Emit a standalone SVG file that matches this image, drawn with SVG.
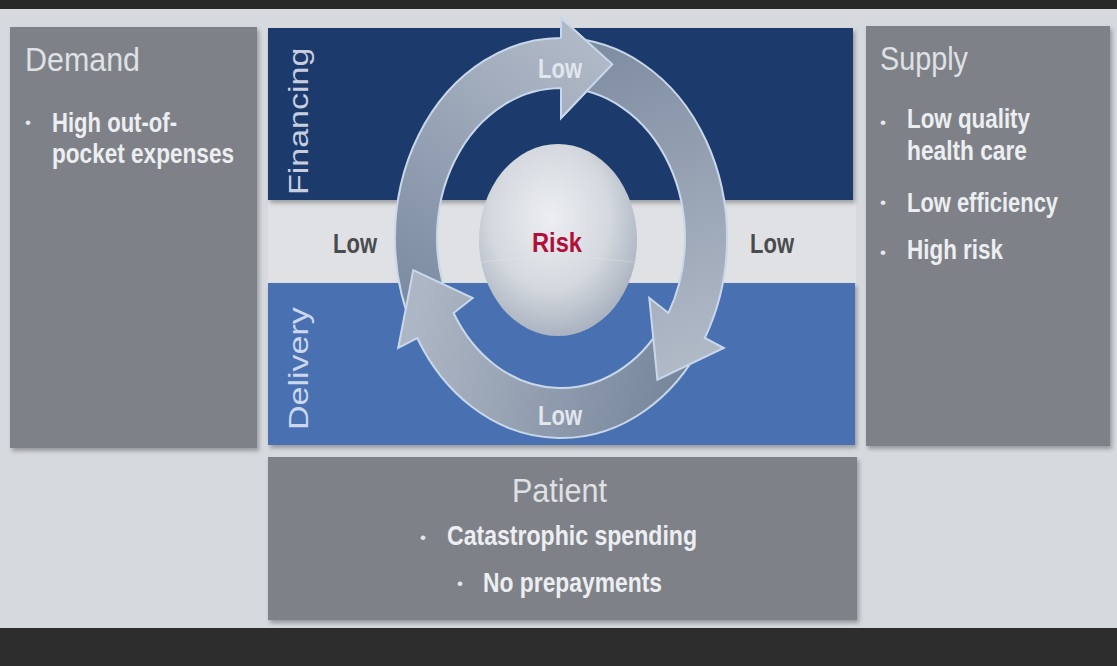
<svg xmlns="http://www.w3.org/2000/svg" width="1117" height="666" viewBox="0 0 1117 666">
<defs>
<style>
.title{font-family:"Liberation Sans",Arial,sans-serif;font-size:33px;fill:#dfe1e4}
.bul{font-family:"Liberation Sans",Arial,sans-serif;font-size:28px;font-weight:bold;fill:#eceef1}
.dot{font-family:"Liberation Sans",Arial,sans-serif;font-size:17px;fill:#e6e8eb}
.side{font-family:"Liberation Sans",Arial,sans-serif;font-size:34px}
.low{font-family:"Liberation Sans",Arial,sans-serif;font-size:27px;font-weight:bold}
.arrow{stroke:#c9d7eb;stroke-width:2;stroke-linejoin:miter}
.box{fill:#7e8288}
</style>
<filter id="sh" x="-5%" y="-5%" width="112%" height="115%"><feDropShadow dx="2" dy="3" stdDeviation="2" flood-color="#000" flood-opacity="0.3"/></filter>
<linearGradient id="gTop" gradientUnits="userSpaceOnUse" x1="420" y1="320" x2="600" y2="60"><stop offset="0" stop-color="#7b8aa1"/><stop offset="1" stop-color="#afb8c6"/></linearGradient>
<linearGradient id="gRight" gradientUnits="userSpaceOnUse" x1="575" y1="45" x2="690" y2="360"><stop offset="0" stop-color="#7e8ca1"/><stop offset="1" stop-color="#b0b9c6"/></linearGradient>
<linearGradient id="gBot" gradientUnits="userSpaceOnUse" x1="690" y1="360" x2="420" y2="300"><stop offset="0" stop-color="#76859b"/><stop offset="1" stop-color="#adb6c4"/></linearGradient>
<radialGradient id="sph" cx="0.45" cy="0.38" r="0.62"><stop offset="0" stop-color="#eceef2"/><stop offset="0.6" stop-color="#d5d9df"/><stop offset="1" stop-color="#aab3c0"/></radialGradient>
</defs>
<rect x="0" y="0" width="1117" height="666" fill="#d6d9de"/>
<rect x="0" y="0" width="1117" height="9" fill="#282828"/>
<rect x="268" y="200" width="588" height="83" fill="#dfe1e4"/>
<rect x="0" y="628" width="1117" height="38" fill="#2d2d2d"/>

<g id="demand">
<rect class="box" x="10" y="27" width="247" height="421" filter="url(#sh)"/>
<text class="title" x="25" y="71" textLength="115" lengthAdjust="spacingAndGlyphs">Demand</text>
<text class="dot" x="25" y="128">•</text>
<text class="bul" x="52" y="132" textLength="125" lengthAdjust="spacingAndGlyphs">High out-of-</text>
<text class="bul" x="52" y="163" textLength="182" lengthAdjust="spacingAndGlyphs">pocket expenses</text>
</g>

<g id="supply">
<rect class="box" x="866" y="26" width="244" height="420" filter="url(#sh)"/>
<text class="title" x="880" y="70" textLength="88" lengthAdjust="spacingAndGlyphs">Supply</text>
<text class="dot" x="880" y="128">•</text>
<text class="bul" x="907" y="128" textLength="123" lengthAdjust="spacingAndGlyphs">Low quality</text>
<text class="bul" x="907" y="160" textLength="120" lengthAdjust="spacingAndGlyphs">health care</text>
<text class="dot" x="880" y="208">•</text>
<text class="bul" x="907" y="212" textLength="151" lengthAdjust="spacingAndGlyphs">Low efficiency</text>
<text class="dot" x="880" y="258">•</text>
<text class="bul" x="907" y="259" textLength="96" lengthAdjust="spacingAndGlyphs">High risk</text>
</g>

<g id="patient">
<rect class="box" x="268" y="457" width="589" height="163" filter="url(#sh)"/>
<text class="title" x="512" y="502" textLength="95" lengthAdjust="spacingAndGlyphs">Patient</text>
<text class="dot" x="420" y="543">•</text>
<text class="bul" x="447" y="545" textLength="250" lengthAdjust="spacingAndGlyphs">Catastrophic spending</text>
<text class="dot" x="457" y="589">•</text>
<text class="bul" x="483" y="592" textLength="179" lengthAdjust="spacingAndGlyphs">No prepayments</text>
</g>

<g id="financing">
<rect x="268" y="28" width="585" height="172" fill="#1f3a6c" filter="url(#sh)"/>
<text class="side" fill="#c6cee0" transform="translate(308,195) scale(0.8,1) rotate(-90)">Financing</text>
</g>

<g id="delivery">
<rect x="268" y="283" width="587" height="162" fill="#4a6fb1" filter="url(#sh)"/>
<text class="side" fill="#cbd7ed" transform="translate(308,430) scale(0.8,1) rotate(-90)">Delivery</text>
</g>

<g id="risk">
<ellipse cx="558" cy="240" rx="79" ry="96" fill="url(#sph)"/>
<path d="M 482 262 Q 558 252 634 262" fill="none" stroke="#e4e7ec" stroke-width="1" opacity="0.35"/>
<text class="low" x="532" y="252" fill="#b0103a" textLength="50" lengthAdjust="spacingAndGlyphs">Risk</text>
</g>

<g id="connectors">
<path class="arrow" fill="url(#gTop)" d="M 414.4 331.9 A 166 200 0 0 1 561 38 L 561 18 L 612.3 64.2 L 561 118 L 561 88 A 124 150 0 0 0 451.5 308.4 Z"/>
<path class="arrow" fill="url(#gBot)" d="M 701.8 344 A 166 200 0 0 1 417.2 338 L 398.2 348 L 413.3 270.1 L 472.7 298 L 453.6 313 A 124 150 0 0 0 666.2 317.5 Z"/>
<path class="arrow" fill="url(#gRight)" d="M 566.8 38.1 A 166 200 0 0 1 704.8 338 L 723.8 348 L 657.4 379.7 L 649.3 298 L 668.4 313 A 124 150 0 0 0 565.3 88.1 Z"/>
<path fill="url(#gTop)" d="M 561 38 L 561 18 L 612.3 64.2 L 561 118 L 561 88 Z"/>
<path class="arrow" fill="none" d="M 561 38 L 561 18 L 612.3 64.2 L 561 118 L 561 88"/>
</g>

<g id="labels">
<text class="low" x="538" y="78" fill="#e2e6ed" textLength="44" lengthAdjust="spacingAndGlyphs">Low</text>
<text class="low" x="538" y="425" fill="#e2e6ed" textLength="44" lengthAdjust="spacingAndGlyphs">Low</text>
<text class="low" x="333" y="253" fill="#4a4b4e" textLength="44" lengthAdjust="spacingAndGlyphs">Low</text>
<text class="low" x="750" y="253" fill="#4a4b4e" textLength="44" lengthAdjust="spacingAndGlyphs">Low</text>
</g>
</svg>
